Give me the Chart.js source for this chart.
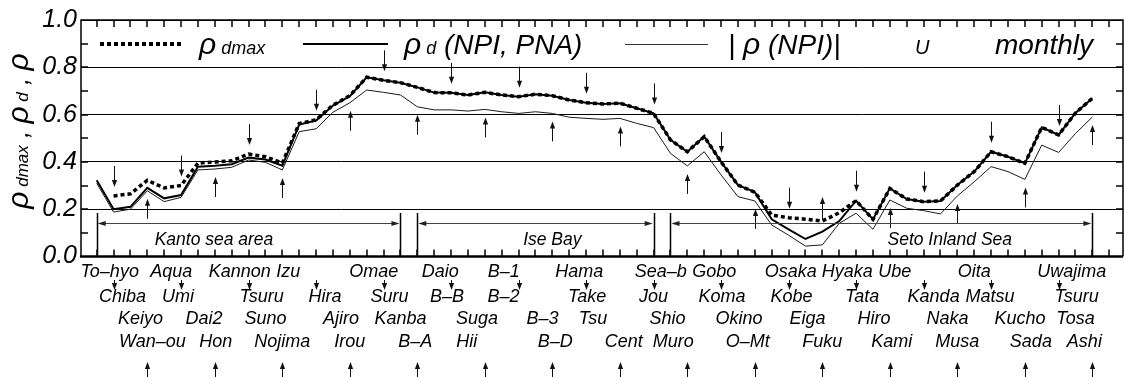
<!DOCTYPE html>
<html>
<head>
<meta charset="utf-8">
<script src="https://cdn.jsdelivr.net/npm/chart.js@4.4.0/dist/chart.umd.min.js"></script>
<style>
  html, body { margin: 0; padding: 0; background: #fff; }
  canvas { display: block; }
</style>
</head>
<body>
<canvas id="chart" width="1124" height="378"></canvas>
<script>
// Observation stations, west-bound along the coast (index = station number)
const stations = [
  'To–hyo','Chiba','Keiyo','Wan–ou','Aqua','Umi','Dai2','Hon',
  'Kannon','Tsuru','Suno','Nojima','Izu','Hira','Ajiro','Irou',
  'Omae','Suru','Kanba','B–A','Daio','B–B','Suga','Hii',
  'B–1','B–2','B–3','B–D','Hama','Take','Tsu','Cent',
  'Sea–b','Jou','Shio','Muro','Gobo','Koma','Okino','O–Mt',
  'Osaka','Kobe','Eiga','Fuku','Hyaka','Tata','Hiro','Kami',
  'Ube','Kanda','Naka','Musa','Oita','Matsu','Kucho','Sada',
  'Uwajima','Tsuru','Tosa','Ashi'
];

// rho_dmax (dotted)
const rhoDmax = [
  null, 0.256, 0.265, 0.322, 0.290, 0.300, 0.395, 0.400,
  0.405, 0.433, 0.422, 0.395, 0.562, 0.578, 0.640, 0.680,
  0.758, 0.745, 0.735, 0.715, 0.693, 0.692, 0.683, 0.694,
  0.683, 0.676, 0.686, 0.680, 0.662, 0.650, 0.645, 0.648,
  0.627, 0.605, 0.493, 0.443, 0.507, 0.400, 0.302, 0.272,
  0.175, 0.164, 0.158, 0.150, 0.185, 0.236, 0.157, 0.288,
  0.243, 0.232, 0.235, 0.302, 0.359, 0.443, 0.422, 0.394,
  0.546, 0.514, 0.607, 0.669
];

// rho_d (NPI, PNA) (thick solid)
const rhoD = [
  0.322, 0.200, 0.210, 0.290, 0.246, 0.260, 0.380, 0.384,
  0.390, 0.418, 0.410, 0.384, 0.558, 0.575, 0.638, 0.678,
  0.758, 0.745, 0.735, 0.715, 0.693, 0.692, 0.683, 0.694,
  0.683, 0.676, 0.686, 0.680, 0.662, 0.650, 0.645, 0.648,
  0.627, 0.605, 0.493, 0.443, 0.507, 0.400, 0.302, 0.272,
  0.157, 0.115, 0.074, 0.105, 0.150, 0.236, 0.157, 0.288,
  0.243, 0.232, 0.235, 0.302, 0.359, 0.443, 0.422, 0.394,
  0.546, 0.514, 0.607, 0.669
];

// |rho (NPI)| (thin solid)
const rhoNPI = [
  0.310, 0.188, 0.200, 0.278, 0.232, 0.250, 0.366, 0.370,
  0.377, 0.408, 0.398, 0.366, 0.528, 0.540, 0.610, 0.650,
  0.704, 0.694, 0.683, 0.633, 0.620, 0.620, 0.615, 0.622,
  0.612, 0.605, 0.612, 0.605, 0.589, 0.584, 0.580, 0.584,
  0.563, 0.545, 0.436, 0.383, 0.443, 0.345, 0.253, 0.235,
  0.133, 0.090, 0.044, 0.049, 0.140, 0.183, 0.115, 0.239,
  0.204, 0.194, 0.180, 0.256, 0.316, 0.380, 0.359, 0.326,
  0.471, 0.440, 0.520, 0.590
];

const yTicks = [0.0, 0.2, 0.4, 0.6, 0.8, 1.0];
const yMinorTicks = [0.1, 0.2, 0.3, 0.4, 0.5, 0.6, 0.7, 0.8, 0.9];

// Sea areas: first and last station of each
const regionNames = ['Kanto sea area', 'Ise Bay', 'Seto Inland Sea'];
const regionFirst = [0, 19, 34];
const regionLast  = [18, 33, 59];

// ---- layout ----
const FAMILY = '"Liberation Sans", Arial, Helvetica, sans-serif';
const font = s => `italic ${s}px ${FAMILY}`;
// sideways nudge (px) of each station name from its tick
const nameShift = [
  13, 9, 10, 5, 7, -3, 6, 1,
  8, 13, 0, 0, -11, 9, 8, 0,
  7, 6, 0, -2, 6, -4, 9, -18,
  2, -15, 7, 3, 10, 1, -10, 4,
  24, 0, -3, -14, 10, 1, 1, -7,
  19, 3, 2, 0, 8, 6, 1, 2,
  -12, 10, 7, 0, 0, -1, 12, 6,
  30, 18, 0, -8
];
const nameRowBase = [277, 302, 324, 347];
const regionTextAt = [6.95, 27.0, 50.55];   // in station units

const pts = arr => arr.map((v, i) => ({ x: i, y: v }));

function arrowHead(ctx, x, y, dir) {   // dir: +1 points down, -1 points up
  ctx.beginPath();
  ctx.moveTo(x, y);
  ctx.lineTo(x - 2.6, y - dir * 7);
  ctx.lineTo(x + 2.6, y - dir * 7);
  ctx.closePath();
  ctx.fill();
}
function vArrow(ctx, x, yTail, yTip) {
  const dir = yTip > yTail ? 1 : -1;
  ctx.beginPath();
  ctx.moveTo(x, yTail);
  ctx.lineTo(x, yTip - dir * 5);
  ctx.stroke();
  arrowHead(ctx, x, yTip, dir);
}
function hArrowBoth(ctx, x1, x2, y) {
  ctx.beginPath();
  ctx.moveTo(x1 + 4, y);
  ctx.lineTo(x2 - 4, y);
  ctx.stroke();
  ctx.beginPath();
  ctx.moveTo(x1 + 1, y); ctx.lineTo(x1 + 9, y - 2.6); ctx.lineTo(x1 + 9, y + 2.6); ctx.closePath(); ctx.fill();
  ctx.beginPath();
  ctx.moveTo(x2 - 1, y); ctx.lineTo(x2 - 9, y - 2.6); ctx.lineTo(x2 - 9, y + 2.6); ctx.closePath(); ctx.fill();
}
function run(ctx, parts, x, y) {
  for (const p of parts) {
    ctx.font = font(p.s);
    ctx.fillText(p.t, x, y);
    x += ctx.measureText(p.t).width;
  }
  return x;
}
function runWidth(ctx, parts) {
  let w = 0;
  for (const p of parts) { ctx.font = font(p.s); w += ctx.measureText(p.t).width; }
  return w;
}

const decor = {
  id: 'decor',
  afterDraw(chart) {
    const ctx = chart.ctx;
    const a = chart.chartArea;
    const x = chart.scales.x, y = chart.scales.y;
    const series = [rhoDmax, rhoD, rhoNPI];
    ctx.save();
    ctx.setLineDash([]);
    ctx.fillStyle = '#000';
    ctx.strokeStyle = '#000';

    // frame
    ctx.lineWidth = 1.5;
    ctx.beginPath();
    ctx.moveTo(a.left, a.bottom); ctx.lineTo(a.left, a.top);
    ctx.lineTo(a.right, a.top); ctx.lineTo(a.right, a.bottom);
    ctx.stroke();
    ctx.lineWidth = 2.5;
    ctx.beginPath();
    ctx.moveTo(a.left - 1, a.bottom); ctx.lineTo(a.right, a.bottom);
    ctx.stroke();

    // inward ticks: one per station along top and bottom, every 0.1 on the sides
    ctx.lineWidth = 1.5;
    ctx.strokeStyle = '#000';
    for (let i = 0; i <= 60; i++) {
      const px = Math.round(x.getPixelForValue(i));
      if (px > a.left + 2 && px < a.right - 2) {
        ctx.beginPath();
        ctx.moveTo(px, a.top);
        ctx.lineTo(px, a.top + 7);
        ctx.stroke();
        ctx.beginPath();
        ctx.moveTo(px, a.bottom);
        ctx.lineTo(px, a.bottom - 7);
        ctx.stroke();
      }
    }
    for (const v of yMinorTicks) {
      const py = Math.round(y.getPixelForValue(v));
      ctx.beginPath();
      ctx.moveTo(a.left, py);
      ctx.lineTo(a.left + 7, py);
      ctx.stroke();
      ctx.beginPath();
      ctx.moveTo(a.right, py);
      ctx.lineTo(a.right - 7, py);
      ctx.stroke();
    }

    // arrows pointing at the curves
    ctx.strokeStyle = '#111';
    ctx.fillStyle = '#111';
    ctx.lineWidth = 1;
    for (let i = 0; i < stations.length; i++) {
      const vals = series.map(s => s[i]).filter(v => v !== null);
      const hi = y.getPixelForValue(Math.max(...vals));
      const lo = y.getPixelForValue(Math.min(...vals));
      const px = Math.round(x.getPixelForValue(i)) + 0.5;
      if (i % 4 === 1) {
        vArrow(ctx, px, hi - 30, hi - 9);
      } else if (i % 4 === 3) {
        let tip = lo + 8, tail = lo + 28;
        if (tail > a.bottom - 6) { tail = hi - 2; tip = hi - 24; }
        vArrow(ctx, px, tail, tip);
      }
    }

    // sea areas
    ctx.lineWidth = 1.5;
    ctx.strokeStyle = '#000';
    ctx.beginPath();
    regionFirst.forEach((f, r) => {
      for (const i of [f, regionLast[r]]) {
        const px = Math.round(x.getPixelForValue(i)) + 0.5;
        ctx.moveTo(px, 213); ctx.lineTo(px, a.bottom);
      }
    });
    ctx.stroke();
    ctx.lineWidth = 1;
    ctx.strokeStyle = '#444';
    ctx.fillStyle = '#222';
    regionFirst.forEach((f, r) => {
      hArrowBoth(ctx, x.getPixelForValue(f), x.getPixelForValue(regionLast[r]), 223.5);
    });
    ctx.fillStyle = '#000';
    ctx.font = font(17.5);
    ctx.textAlign = 'center';
    ctx.textBaseline = 'alphabetic';
    regionNames.forEach((n, r) => ctx.fillText(n, x.getPixelForValue(regionTextAt[r]), 245));

    // station names in four staggered rows
    ctx.font = font(18);
    stations.forEach((n, i) => {
      ctx.fillText(n, x.getPixelForValue(i) + nameShift[i], nameRowBase[i % 4]);
    });
    ctx.strokeStyle = '#111';
    ctx.fillStyle = '#111';
    ctx.lineWidth = 1;
    stations.forEach((n, i) => {
      const px = Math.round(x.getPixelForValue(i)) + 0.5;
      if (i % 4 === 1) vArrow(ctx, px, 280, 290);
      if (i % 4 === 3) vArrow(ctx, px, 377, 362);
    });

    // legend
    ctx.fillStyle = '#000';
    ctx.textAlign = 'left';
    ctx.strokeStyle = '#000';
    ctx.lineWidth = 4;
    ctx.setLineDash([4, 3]);
    ctx.beginPath(); ctx.moveTo(100, 44); ctx.lineTo(182, 44); ctx.stroke();
    ctx.setLineDash([]);
    ctx.lineWidth = 2;
    ctx.beginPath(); ctx.moveTo(303, 44); ctx.lineTo(388, 44); ctx.stroke();
    ctx.lineWidth = 1;
    ctx.strokeStyle = '#333';
    ctx.beginPath(); ctx.moveTo(625, 44.5); ctx.lineTo(708, 44.5); ctx.stroke();
    run(ctx, [{ t: 'ρ', s: 30 }, { t: ' dmax', s: 18 }], 199, 54);
    run(ctx, [{ t: 'ρ', s: 30 }, { t: ' d', s: 18 }, { t: ' (NPI, PNA)', s: 28 }], 404, 54);
    run(ctx, [{ t: '| ', s: 28 }, { t: 'ρ', s: 30 }, { t: ' (NPI)|', s: 28 }], 728, 54);
    run(ctx, [{ t: 'U', s: 20 }], 915, 54);
    run(ctx, [{ t: 'monthly', s: 28 }], 995, 54);

    // y-axis title
    const title = [
      { t: 'ρ', s: 30 }, { t: ' dmax', s: 17 }, { t: ' , ', s: 26 },
      { t: 'ρ', s: 30 }, { t: ' d', s: 17 }, { t: ' , ', s: 26 }, { t: 'ρ', s: 30 }
    ];
    ctx.translate(28, 131);
    ctx.rotate(-Math.PI / 2);
    run(ctx, title, -runWidth(ctx, title) / 2, 0);
    ctx.restore();
  }
};

new Chart(document.getElementById('chart'), {
  type: 'line',
  data: {
    datasets: [
      { label: '|ρ (NPI)|', data: pts(rhoNPI), borderColor: '#1a1a1a', borderWidth: 1, pointRadius: 0, tension: 0 },
      { label: 'ρd (NPI, PNA)', data: pts(rhoD), borderColor: '#000', borderWidth: 2, pointRadius: 0, tension: 0 },
      { label: 'ρdmax', data: pts(rhoDmax), borderColor: '#000', borderWidth: 3.5, borderDash: [4, 3], pointRadius: 0, tension: 0 }
    ]
  },
  options: {
    responsive: false,
    animation: false,
    devicePixelRatio: 1,
    layout: { padding: { left: 0, right: 1, top: 20, bottom: 121.5 } },
    plugins: { legend: { display: false }, tooltip: { enabled: false } },
    scales: {
      x: { type: 'linear', min: -0.93, max: 60.815, display: false },
      y: {
        min: 0, max: 1,
        afterBuildTicks: axis => { axis.ticks = yTicks.map(v => ({ value: v })); },
        afterFit: axis => { axis.width = 81; },
        ticks: { callback: v => v.toFixed(1), font: { family: FAMILY, size: 25, style: 'italic' }, color: '#000', padding: 4 },
        grid: { color: '#000', lineWidth: 1, drawTicks: false },
        border: { display: false }
      }
    }
  },
  plugins: [decor]
});
</script>
</body>
</html>
